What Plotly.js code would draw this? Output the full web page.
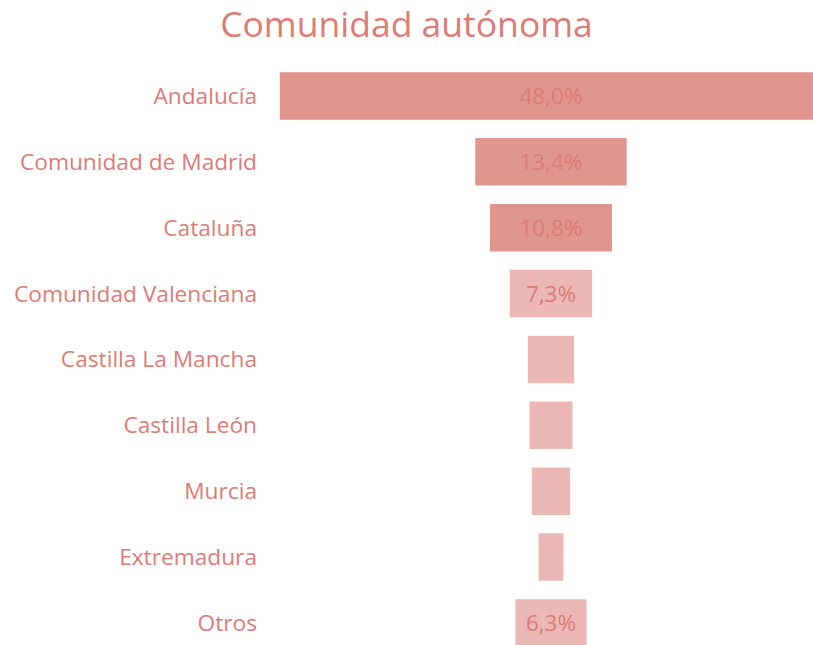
<!DOCTYPE html>
<html>
<head>
<meta charset="utf-8">
<script src="https://cdn.plot.ly/plotly-3.0.1.min.js"></script>
<style>html,body{margin:0;padding:0;background:#fff;}#chart{width:813px;height:645px;}</style>
</head>
<body>
<div id="chart"></div>
<script>
const categories = ["Andalucía","Comunidad de Madrid","Cataluña","Comunidad Valenciana","Castilla La Mancha","Castilla León","Murcia","Extremadura","Otros"];
const values = [48.0, 13.4, 10.8, 7.3, 4.1, 3.8, 3.4, 2.2, 6.3];
const labels = ["48,0%","13,4%","10,8%","7,3%","","","","","6,3%"];
const barColors = ["#e0958f","#e0958f","#e0958f","#ebb8b6","#ebb8b6","#ebb8b6","#ebb8b6","#ebb8b6","#ebb8b6"];

const FONT = "'Open Sans', 'Noto Sans', sans-serif";

const trace = {
  type: "bar",
  orientation: "h",
  y: categories,
  x: values,
  base: values.map(v => -v / 2),
  width: 0.72,
  marker: {color: barColors, line: {width: 0}},
  text: labels,
  textposition: "inside",
  insidetextanchor: "middle",
  textangle: 0,
  constraintext: "none",
  textfont: {family: FONT, size: 22.5, color: "#dd7b76"},
  hoverinfo: "none"
};

const layout = {
  width: 813, height: 645,
  margin: {l: 278, r: 0, t: 63, b: 0},
  paper_bgcolor: "#fff", plot_bgcolor: "#fff",
  title: {text: "Comunidad autónoma", x: 0.5, xanchor: "center", yref: "container", y: 0.962, yanchor: "middle",
          font: {family: FONT, size: 35.5, color: "#dd7b76"}},
  xaxis: {range: [-24.16, 23.19], visible: false, fixedrange: true},
  yaxis: {type: "category", range: [8.335, -0.5], showgrid: false, zeroline: false, showline: false,
          ticks: "", ticklabelstandoff: 20,
          tickfont: {family: FONT, size: 22.7, color: "#dd7b76"}},
  showlegend: false
};

Plotly.newPlot("chart", [trace], layout, {displayModeBar: false, staticPlot: true});
</script>
</body>
</html>
